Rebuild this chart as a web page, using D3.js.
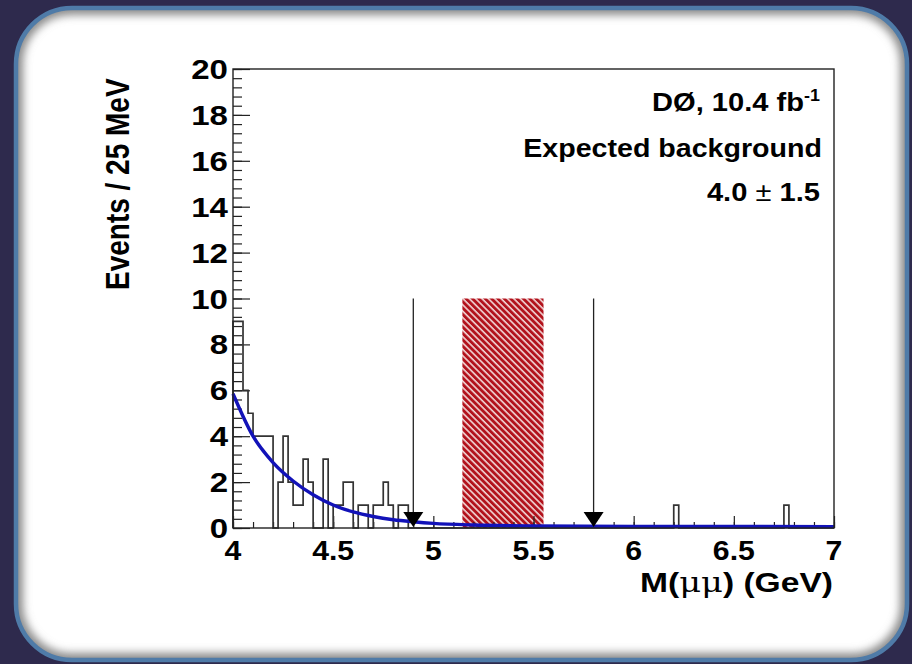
<!DOCTYPE html>
<html>
<head>
<meta charset="utf-8">
<script src="https://cdn.jsdelivr.net/npm/d3@7"></script>
<style>
  body { margin: 0; background: #2e2a4d; }
  svg { display: block; }
  text { font-family: "Liberation Sans", Arial, sans-serif; font-weight: bold; fill: #000; }
</style>
</head>
<body>
<div class="chart"></div>
<script>
// events per 25 MeV bin, 4.0 -> 7.0 GeV (120 bins)
var binLow = 4.0;
var binWidth = 0.025;
var counts = [
  9, 9, 6, 5, 4, 4, 4, 4, 0, 2,
  4, 2, 1, 1, 3, 2, 0, 0, 3, 0,
  1, 1, 2, 2, 0, 1, 1, 0, 1, 1,
  2, 1, 0, 1, 1, 0, 0, 0, 0, 0,
  0, 0, 0, 0, 0, 0, 0, 0, 0, 0,
  0, 0, 0, 0, 0, 0, 0, 0, 0, 0,
  0, 0, 0, 0, 0, 0, 0, 0, 0, 0,
  0, 0, 0, 0, 0, 0, 0, 0, 0, 0,
  0, 0, 0, 0, 0, 0, 0, 0, 1, 0,
  0, 0, 0, 0, 0, 0, 0, 0, 0, 0,
  0, 0, 0, 0, 0, 0, 0, 0, 0, 0,
  1, 0, 0, 0, 0, 0, 0, 0, 0, 0
];

// background fit
var fitX = [4.0, 4.1, 4.2, 4.3, 4.4, 4.5, 4.6, 4.7, 4.8, 4.9, 5.0, 5.2, 5.5, 6.0, 7.0];
var fitY = [5.85, 4.0, 2.85, 2.05, 1.45, 1.0, 0.7, 0.5, 0.36, 0.27, 0.2, 0.13, 0.09, 0.07, 0.06];

var arrowX = [4.9, 5.8];
var arrowTop = 10;
var signalWindow = [5.145, 5.55];
var signalHeight = 10;

var xTicks = [4, 4.5, 5, 5.5, 6, 6.5, 7];
var xTickLabels = ["4", "4.5", "5", "5.5", "6", "6.5", "7"];
var yTicks = [0, 2, 4, 6, 8, 10, 12, 14, 16, 18, 20];

var width = 912;
var height = 664;

var svg = d3.select(".chart")
    .append("svg")
    .attr("width", width)
    .attr("height", height);

var defs = svg.append("defs");

// hatch for the signal window
var pat = defs.append("pattern")
    .attr("id", "hatch")
    .attr("patternUnits", "userSpaceOnUse")
    .attr("width", 4.5)
    .attr("height", 4.5)
    .attr("patternTransform", "rotate(-45)");
pat.append("rect").attr("width", 4.5).attr("height", 4.5).attr("fill", "#f1d6d6");
pat.append("rect").attr("width", 2.9).attr("height", 4.5).attr("fill", "#b2121c");

var blur = defs.append("filter").attr("id", "shade").attr("x", "-5%").attr("y", "-5%").attr("width", "110%").attr("height", "110%");
blur.append("feGaussianBlur").attr("stdDeviation", 4);

var card = { x: 16, y: 8, w: 891, h: 652, r: 56 };

defs.append("clipPath").attr("id", "cardclip")
    .append("rect")
    .attr("x", card.x).attr("y", card.y).attr("width", card.w).attr("height", card.h)
    .attr("rx", card.r).attr("ry", card.r);

// slide card
svg.append("rect")
    .attr("x", card.x).attr("y", card.y).attr("width", card.w).attr("height", card.h)
    .attr("rx", card.r).attr("ry", card.r)
    .attr("fill", "#fff");

svg.append("g")
    .attr("clip-path", "url(#cardclip)")
    .append("rect")
    .attr("x", card.x).attr("y", card.y).attr("width", card.w).attr("height", card.h)
    .attr("rx", card.r).attr("ry", card.r)
    .attr("fill", "none")
    .attr("stroke", "#8a8a8a")
    .attr("stroke-width", 14)
    .attr("filter", "url(#shade)");

svg.append("rect")
    .attr("x", card.x).attr("y", card.y).attr("width", card.w).attr("height", card.h)
    .attr("rx", card.r).attr("ry", card.r)
    .attr("fill", "none")
    .attr("stroke", "#4f7ba8")
    .attr("stroke-width", 4.5);

var x = d3.scaleLinear().domain([4, 7]).range([233, 834]);
var y = d3.scaleLinear().domain([0, 20]).range([528, 69]);

var plot = svg.append("g");

// signal window
plot.append("rect")
    .attr("x", x(signalWindow[0]))
    .attr("y", y(signalHeight))
    .attr("width", x(signalWindow[1]) - x(signalWindow[0]))
    .attr("height", y(0) - y(signalHeight))
    .attr("fill", "url(#hatch)");

// histogram outline
var pts = [[binLow, 0]];
for (var i = 0; i < counts.length; i++) {
    pts.push([binLow + i * binWidth, counts[i]]);
}
pts.push([binLow + counts.length * binWidth, counts[counts.length - 1]]);
pts.push([binLow + counts.length * binWidth, 0]);

var step = d3.line()
    .x(function (d) { return x(d[0]); })
    .y(function (d) { return y(d[1]); })
    .curve(d3.curveStepAfter);

// ticks (drawn before histogram so the outline sits over them)
var xMinor = d3.range(40, 71).map(function (v) { return v / 10; });
var yMinor = d3.range(0, 51).map(function (v) { return v * 0.4; });

plot.append("g")
    .attr("transform", "translate(0," + y(0) + ")")
    .call(d3.axisTop(x).tickValues(xMinor).tickSize(6).tickFormat(""))
    .call(function (g) { g.select(".domain").remove(); });

plot.append("g")
    .attr("transform", "translate(0," + y(0) + ")")
    .call(d3.axisTop(x).tickValues(xTicks).tickSize(12).tickFormat(""))
    .call(function (g) { g.select(".domain").remove(); });

plot.append("g")
    .attr("transform", "translate(" + x(4) + ",0)")
    .call(d3.axisRight(y).tickValues(yMinor).tickSize(9).tickFormat(""))
    .call(function (g) { g.select(".domain").remove(); });

plot.append("g")
    .attr("transform", "translate(" + x(4) + ",0)")
    .call(d3.axisRight(y).tickValues(yTicks).tickSize(17).tickFormat(""))
    .call(function (g) { g.select(".domain").remove(); });

plot.selectAll(".tick line").attr("stroke", "#222").attr("stroke-width", 1.2);

plot.append("path")
    .datum(pts)
    .attr("d", step)
    .attr("fill", "none")
    .attr("stroke", "#333")
    .attr("stroke-width", 1.7);

// fit
var fitLine = d3.line()
    .x(function (d, i) { return x(fitX[i]); })
    .y(function (d) { return y(d); })
    .curve(d3.curveMonotoneX);

plot.append("path")
    .datum(fitY)
    .attr("d", fitLine)
    .attr("fill", "none")
    .attr("stroke", "#1212b8")
    .attr("stroke-width", 3.4);

// arrows marking the sidebands
arrowX.forEach(function (a) {
    plot.append("line")
        .attr("x1", x(a)).attr("x2", x(a))
        .attr("y1", y(arrowTop)).attr("y2", y(0) - 8)
        .attr("stroke", "#222")
        .attr("stroke-width", 1.3);
    plot.append("path")
        .attr("d", "M" + (x(a) - 10) + "," + (y(0) - 16) + "L" + (x(a) + 10) + "," + (y(0) - 16) + "L" + x(a) + "," + (y(0) - 1) + "Z")
        .attr("fill", "#000");
});

// frame
plot.append("rect")
    .attr("x", x(4)).attr("y", y(20))
    .attr("width", x(7) - x(4)).attr("height", y(0) - y(20))
    .attr("fill", "none")
    .attr("stroke", "#222")
    .attr("stroke-width", 1.4);

function label(g, px, py, txt, size, anchor, sx) {
    return g.append("text")
        .attr("transform", "translate(" + px + "," + py + ") scale(" + sx + ",1)")
        .attr("text-anchor", anchor)
        .style("font-size", size + "px")
        .text(txt);
}

xTicks.forEach(function (t, i) {
    label(plot, x(t), 560, xTickLabels[i], 27, "middle", 1.12);
});
yTicks.forEach(function (t) {
    label(plot, 228, y(t) + 10, String(t), 28, "end", 1.18);
});

// axis titles
var xt = label(plot, 833, 592, "", 28, "end", 1.2);
xt.append("tspan").text("M(");
xt.append("tspan").style("font-family", "'DejaVu Serif', serif").style("font-weight", "normal").text("\u03bc\u03bc");
xt.append("tspan").text(") (GeV)");

plot.append("text")
    .attr("transform", "translate(129,290) rotate(-90) scale(1,1.18)")
    .style("font-size", "28px")
    .text("Events / 25 MeV");

// annotation
var t1 = label(plot, 820, 111, "D\u00d8, 10.4 fb", 26, "end", 1.12);
t1.append("tspan").attr("dy", -10).style("font-size", "16px").text("-1");
label(plot, 822, 157, "Expected background", 26, "end", 1.1);
var t3 = label(plot, 820, 201, "4.0 ", 26, "end", 1.12);
t3.append("tspan").style("font-weight", "normal").text("\u00b1");
t3.append("tspan").text(" 1.5");
</script>
</body>
</html>
